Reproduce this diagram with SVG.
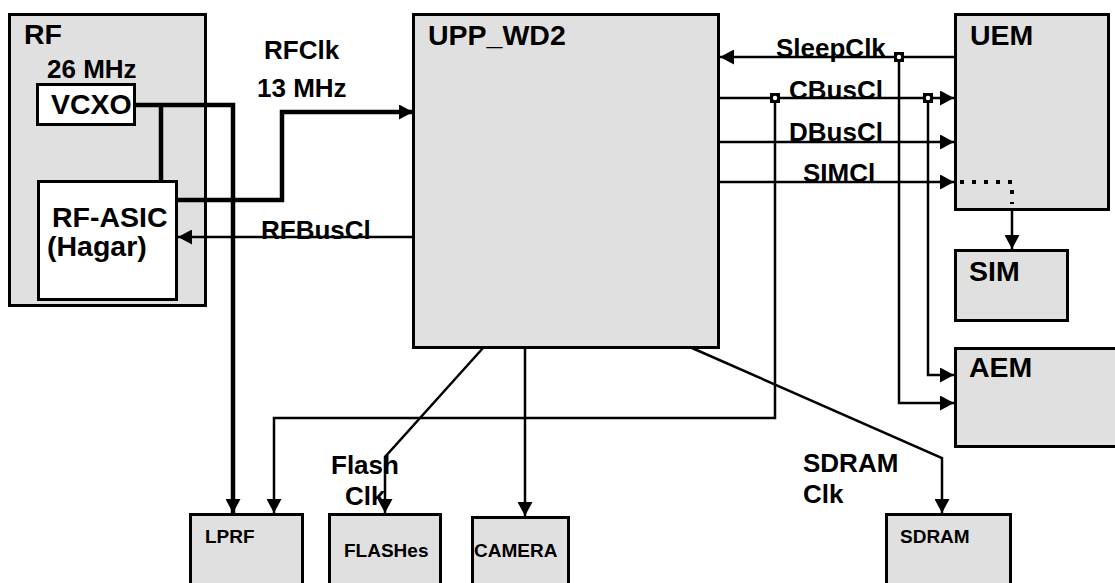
<svg xmlns="http://www.w3.org/2000/svg" width="1115" height="583" viewBox="0 0 1115 583">
<defs>
<style>
.box{fill:#e0e0e0;stroke:#000;stroke-width:3}
.wbox{fill:#fff;stroke:#000;stroke-width:3}
.t{font-family:"Liberation Sans",Arial,sans-serif;font-weight:bold;font-size:26px;fill:#000}
.b{font-family:"Liberation Sans",Arial,sans-serif;font-weight:bold;font-size:28.5px;fill:#000}
.s{font-family:"Liberation Sans",Arial,sans-serif;font-weight:bold;font-size:19px;fill:#000}
.c{fill:none;stroke:#000;stroke-width:2.5}
.k{fill:none;stroke:#000;stroke-width:4.5}
.j{fill:#000}
.jd{fill:#fff}
</style>
<marker id="a" markerUnits="userSpaceOnUse" markerWidth="15" markerHeight="15" refX="14" refY="7.5" orient="auto"><path d="M0,0 L14,7.5 L0,15 Z" fill="#000"/></marker>
</defs>
<g id="RF"><rect class="box" x="9.5" y="14.5" width="196" height="291"/><text class="b" x="24" y="44">RF</text><text class="t" x="47" y="78">26 MHz</text></g>
<g id="VCXO"><rect class="wbox" x="37.5" y="84.5" width="97" height="40"/><text class="b" x="51" y="114">VCXO</text></g>
<g id="RF-ASIC"><rect class="wbox" x="38.5" y="181.5" width="138" height="118"/><text class="b" x="52" y="227">RF-ASIC</text><text class="b" x="47" y="256">(Hagar)</text></g>
<g id="UPP_WD2"><rect class="box" x="413.5" y="14.5" width="305" height="333"/><text class="b" x="428" y="45">UPP_WD2</text></g>
<g id="UEM"><rect class="box" x="955.5" y="14.5" width="153" height="195"/><text class="b" x="970" y="45">UEM</text></g>
<g id="SIM"><rect class="box" x="955.5" y="250.5" width="112" height="70"/><text class="b" x="969" y="281">SIM</text></g>
<g id="AEM"><rect class="box" x="955.5" y="348.5" width="170" height="98"/><text class="b" x="969" y="377">AEM</text></g>
<g id="LPRF"><rect class="box" x="190.5" y="514.5" width="112" height="80"/><text class="s" x="205" y="543">LPRF</text></g>
<g id="FLASHes"><rect class="box" x="329.5" y="514.5" width="111" height="80"/><text class="s" x="344" y="557">FLASHes</text></g>
<g id="CAMERA"><rect class="box" x="472.5" y="517.5" width="96" height="80"/><text class="s" x="474" y="557">CAMERA</text></g>
<g id="SDRAM"><rect class="box" x="886.5" y="514.5" width="124" height="80"/><text class="s" x="900" y="543">SDRAM</text></g>
<g id="connectors">
<path class="k" d="M135,105 H233 V513" marker-end="url(#a)"/>
<path class="k" d="M161,105 V181"/>
<path class="k" d="M177,200 H282 V112 H413" marker-end="url(#a)"/>
<path class="c" d="M413,237 H178" marker-end="url(#a)"/>
<path class="c" d="M955,57 H720" marker-end="url(#a)"/>
<path class="c" d="M719,98 H954" marker-end="url(#a)"/>
<path class="c" d="M719,142 H954" marker-end="url(#a)"/>
<path class="c" d="M719,182 H954" marker-end="url(#a)"/>
<path fill="none" stroke="#000" stroke-width="4" stroke-dasharray="4 8" d="M960,182 H1012 V204"/>
<path class="c" d="M1012,210 V249" marker-end="url(#a)"/>
<path class="c" d="M899,57 V403 H954" marker-end="url(#a)"/>
<path class="c" d="M928,98 V375 H954" marker-end="url(#a)"/>
<path class="c" d="M775,98 V418 H274 V513" marker-end="url(#a)"/>
<path class="c" d="M483,348 L385,457 V513" marker-end="url(#a)"/>
<path class="c" d="M525,348 V516" marker-end="url(#a)"/>
<path class="c" d="M692,348 L942,458 V513" marker-end="url(#a)"/>
<rect class="j" x="894" y="52" width="10" height="10"/><circle class="jd" cx="899" cy="57" r="2.2"/>
<rect class="j" x="770" y="93" width="10" height="10"/><circle class="jd" cx="775" cy="98" r="2.2"/>
<rect class="j" x="923" y="93" width="10" height="10"/><circle class="jd" cx="928" cy="98" r="2.2"/>
</g>
<g id="labels">
<text class="t" x="264" y="59">RFClk</text>
<text class="t" x="257" y="97">13 MHz</text>
<text class="t" x="261" y="239">RFBusCl</text>
<text class="t" x="776" y="57">SleepClk</text>
<text class="t" x="789" y="99">CBusCl</text>
<text class="t" x="789" y="141">DBusCl</text>
<text class="t" x="803" y="182">SIMCl</text>
<text class="t" x="331" y="474">Flash</text>
<text class="t" x="345" y="505">Clk</text>
<text class="t" x="803" y="472">SDRAM</text>
<text class="t" x="803" y="503">Clk</text>
</g>
</svg>
